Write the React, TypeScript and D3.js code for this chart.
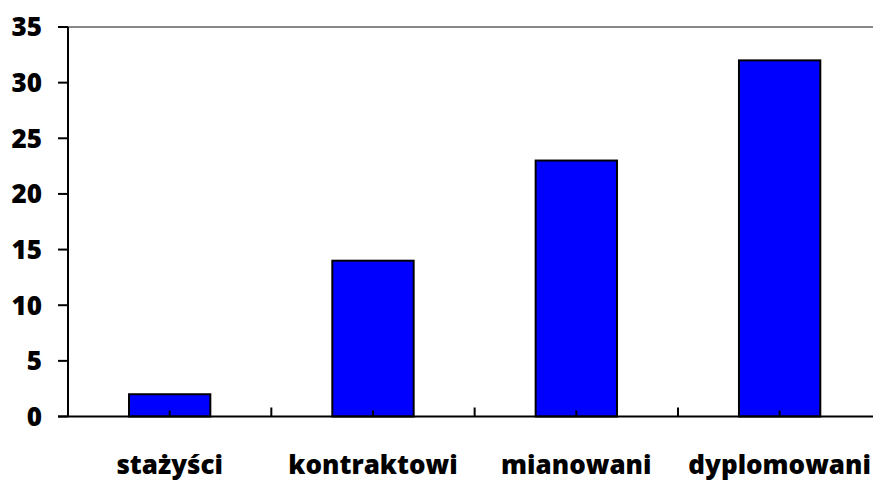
import React from 'react';
import * as d3 from 'd3';

const categories = ['stażyści', 'kontraktowi', 'mianowani', 'dyplomowani'];
const values = [2, 14, 23, 32];
const yTicks = [0, 5, 10, 15, 20, 25, 30, 35];

const W = 873;
const H = 480;
const margin = { left: 68, top: 27, bottom: 416.5, right: 881.3 };
const font = '"Open Sans", "DejaVu Sans", sans-serif';

export default function App() {
  const x = d3.scaleBand<string>()
    .domain(categories)
    .range([margin.left, margin.right])
    .padding(0);

  const y = d3.scaleLinear()
    .domain([0, 35])
    .range([margin.bottom, margin.top]);

  const bw = x.bandwidth();
  const barW = bw * 0.4;

  // small ticks on the x axis: band edges (taller) and band centres
  const edgeTicks = categories.slice(1).map(c => x(c) as number);
  const centreTicks = categories.map(c => (x(c) as number) + bw / 2);

  return (
    <svg width={W} height={H} style={{ position: 'absolute', left: 0, top: 0, background: '#fff' }}>
      {/* plot area top border */}
      <line x1={margin.left} x2={W} y1={y(35)} y2={y(35)} stroke="#888" strokeWidth={2} />

      {/* bars */}
      {categories.map((c, i) => (
        <rect
          key={c}
          x={(x(c) as number) + (bw - barW) / 2}
          y={y(values[i])}
          width={barW}
          height={y(0) - y(values[i])}
          fill="#0000FF"
          stroke="#000"
          strokeWidth={2}
        />
      ))}

      {/* y axis */}
      <line x1={margin.left} x2={margin.left} y1={y(35)} y2={y(0)} stroke="#000" strokeWidth={2} />
      {yTicks.map(t => (
        <g key={t}>
          <line x1={margin.left - 10} x2={margin.left} y1={y(t)} y2={y(t)} stroke="#000" strokeWidth={2} />
          <text
            x={42}
            y={y(t)}
            dy="0.36em"
            textAnchor="end"
            fontFamily={font}
            fontWeight={800}
            fontSize={26}
            fill="#000"
          >
            {t}
          </text>
        </g>
      ))}

      {/* x axis */}
      <line x1={margin.left - 10} x2={W} y1={y(0)} y2={y(0)} stroke="#000" strokeWidth={2} />
      {edgeTicks.map((tx, i) => (
        <line key={'e' + i} x1={tx} x2={tx} y1={y(0)} y2={y(0) - 9} stroke="#000" strokeWidth={2} />
      ))}
      {centreTicks.map((tx, i) => (
        <line key={'c' + i} x1={tx} x2={tx} y1={y(0)} y2={y(0) - 6} stroke="#000" strokeWidth={2} />
      ))}

      {/* category labels */}
      {categories.map(c => (
        <text
          key={c}
          x={(x(c) as number) + bw / 2}
          y={474}
          textAnchor="middle"
          fontFamily={font}
          fontWeight={800}
          fontSize={26}
          fill="#000"
        >
          {c}
        </text>
      ))}
    </svg>
  );
}
